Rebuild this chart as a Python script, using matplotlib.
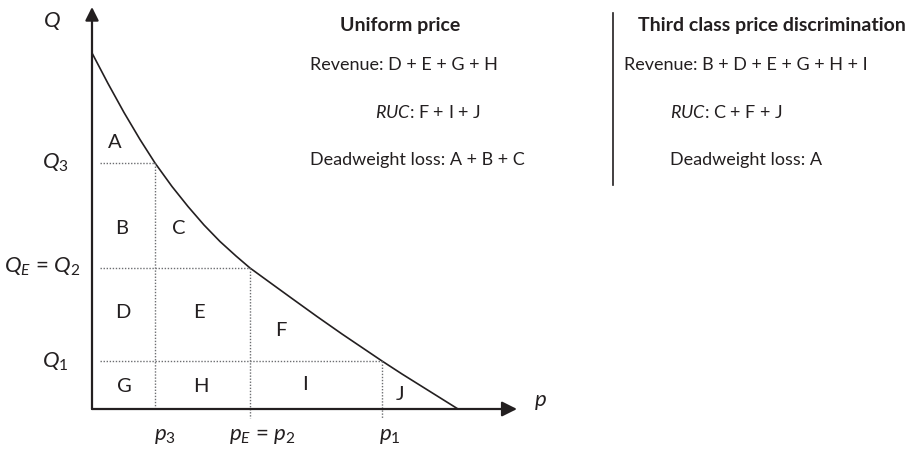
import matplotlib
matplotlib.use("Agg")
import matplotlib.pyplot as plt

plt.rcParams['font.family'] = ['Lato', 'DejaVu Sans']
plt.rcParams['mathtext.fontset'] = 'custom'
plt.rcParams['mathtext.it'] = 'Lato:italic'
plt.rcParams['mathtext.rm'] = 'Lato'
plt.rcParams['mathtext.bf'] = 'Lato:bold'

# ---- data (units = distance from origin) ----
curve_p = [0, 16, 32, 48, 63, 80, 96, 112, 128, 144, 158, 180, 200, 225,
           250, 270, 290, 310, 330, 350, 366]
curve_Q = [356, 325.5, 296.5, 269.5, 246, 222.5, 202.5, 184, 167.5, 153, 141,
           125, 110.5, 92.5, 75, 61.5, 48, 35, 22.5, 10, 0]

p_levels = [63, 158, 290]          # p3, pE=p2, p1
Q_levels = [246, 141, 48]          # Q3, QE=Q2, Q1
p_labels = [r'$p_3$', r'$p_E$ = $p_2$', r'$p_1$']
Q_labels = [r'$Q_3$', r'$Q_E$ = $Q_2$', r'$Q_1$']

region_labels = ['A', 'B', 'C', 'D', 'E', 'F', 'G', 'H', 'I', 'J']

uniform_title = 'Uniform price'
uniform_lines = ['Revenue: D + E + G + H', r'$RUC$: F + I + J', 'Deadweight loss: A + B + C']
disc_title = 'Third class price discrimination'
disc_lines = ['Revenue: B + D + E + G + H + I', r'$RUC$: C + F + J', 'Deadweight loss: A']

INK = '#231f20'
GRID = '#6d6e71'

fig = plt.figure(figsize=(9.07, 4.49), dpi=100)
ax = fig.add_axes([0, 0, 1, 1])
OX, OY = 92, 409
ax.set_xlim(-OX, 907 - OX)
ax.set_ylim(-(449 - OY), OY)
ax.axis('off')

def P(x, y):
    """pixel position -> data coords (layout helper)"""
    return (x - OX, OY - y)

# axes with arrows
ax.annotate('', xy=P(92, 7), xytext=(0, 0),
            arrowprops=dict(arrowstyle='-|>,head_length=0.8,head_width=0.4',
                            lw=1.6, color=INK, shrinkA=0, shrinkB=0))
ax.annotate('', xy=P(517, 409), xytext=(0, 0),
            arrowprops=dict(arrowstyle='-|>,head_length=0.9,head_width=0.45',
                            lw=1.6, color=INK, shrinkA=0, shrinkB=0))

# demand curve
ax.plot(curve_p, curve_Q, color=INK, lw=1.2, solid_capstyle='round', solid_joinstyle='round')

# dotted guides
h_start = 8
below = [0, -9, -9]
for p, Q, b in zip(p_levels, Q_levels, below):
    ax.plot([h_start, p], [Q, Q], ls=(0, (1, 1.2)), color=GRID, lw=1.0)
    ax.plot([p, p], [Q, b], ls=(0, (1, 1.2)), color=GRID, lw=1.0)

# axis labels
FS_AX = 16
ax.text(*P(52, 21), r'$Q$', fontsize=FS_AX, ha='center', va='center', color=INK)
ax.text(*P(540, 402), r'$p$', fontsize=FS_AX, ha='center', va='center', color=INK)
q_pos = [(55, 163), (42, 267), (55, 362)]
for lab, (x, y) in zip(Q_labels, q_pos):
    ax.text(*P(x, y), lab, fontsize=FS_AX, ha='center', va='center', color=INK)
p_pos = [(165, 436), (262, 436), (390, 436)]
for lab, (x, y) in zip(p_labels, p_pos):
    ax.text(*P(x, y), lab, fontsize=FS_AX, ha='center', va='center', color=INK)

# region letters
reg_pos = [(115, 142), (122, 228), (179, 228), (123, 313), (199, 313),
           (281, 330), (124, 387), (201, 386), (305, 384), (400, 394)]
for lab, (x, y) in zip(region_labels, reg_pos):
    ax.text(*P(x, y), lab, fontsize=14.5, ha='center', va='center', color=INK)

# right-hand text
FS = 13
FS_T = 14
ax.text(*P(340, 26), uniform_title, fontsize=FS_T, fontweight='bold', ha='left', va='center', color=INK)
for (x, y), t in zip([(310, 65), (375, 113), (310, 160)], uniform_lines):
    ax.text(*P(x, y), t, fontsize=FS, ha='left', va='center', color=INK)

ax.plot(*zip(P(613, 13), P(613, 185)), color=INK, lw=1.2)
ax.text(*P(638, 26), disc_title, fontsize=FS_T, fontweight='bold', ha='left', va='center', color=INK)
for (x, y), t in zip([(624, 65), (670, 113), (670, 160)], disc_lines):
    ax.text(*P(x, y), t, fontsize=FS, ha='left', va='center', color=INK)

fig.savefig('out.png', dpi=100)
